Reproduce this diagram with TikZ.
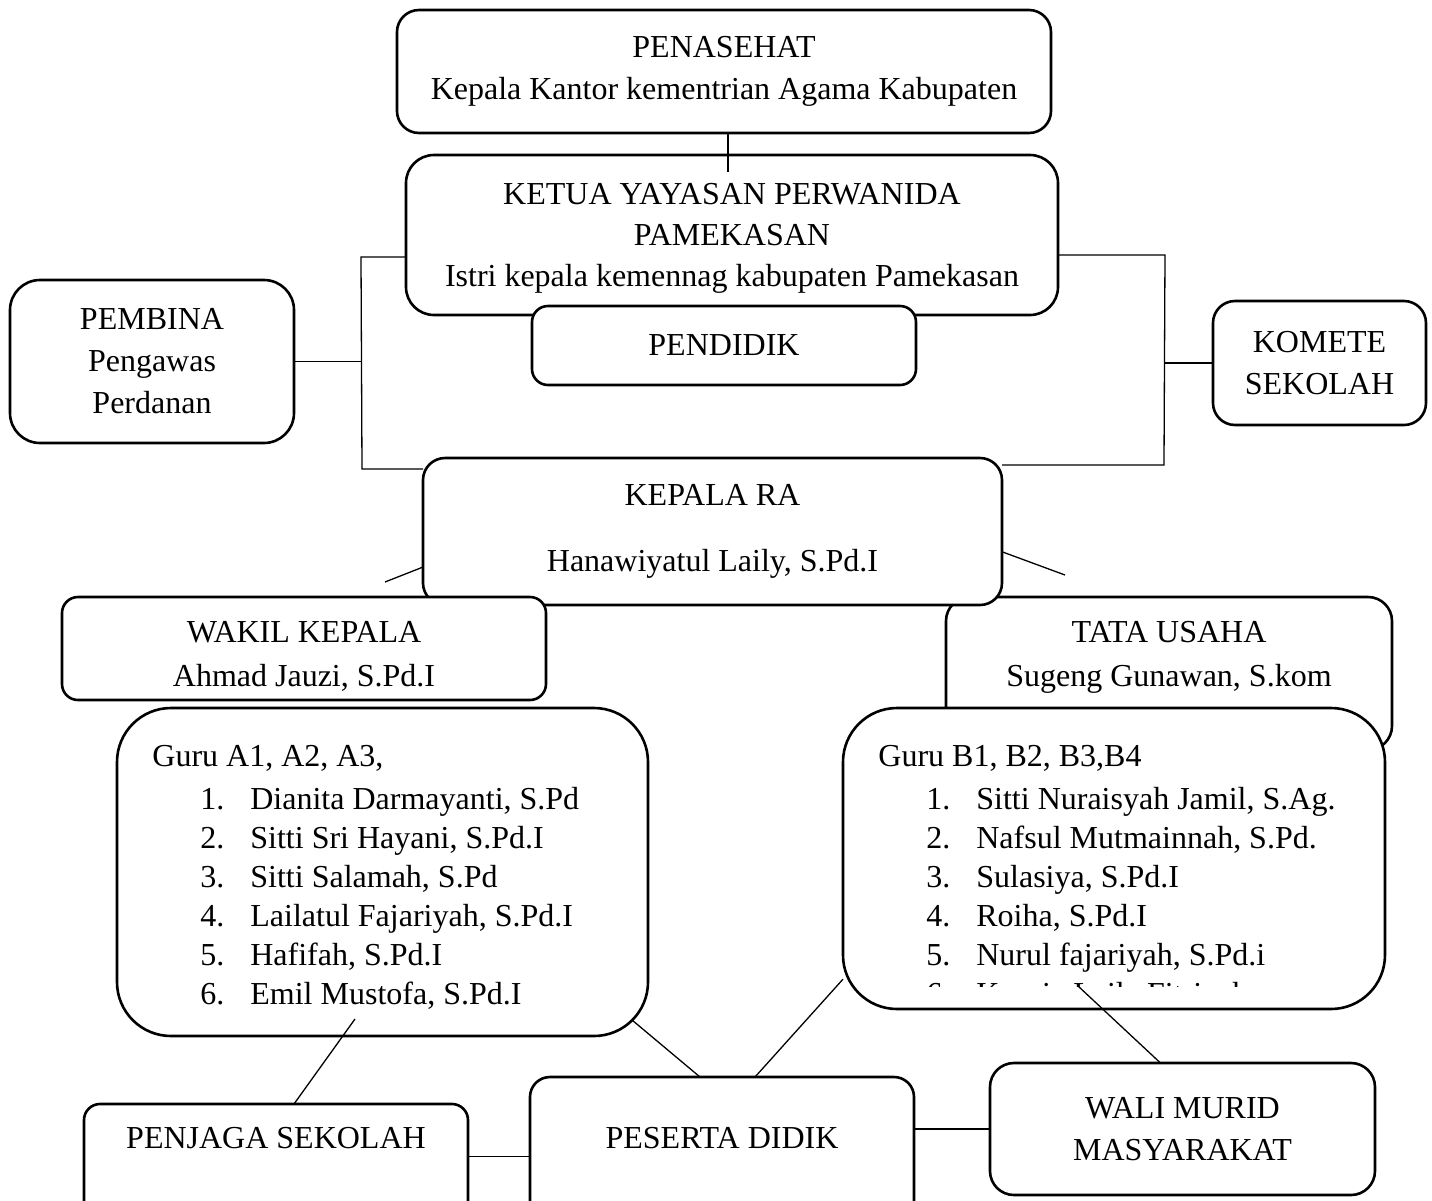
\documentclass[tikz,border=0pt]{standalone}
\usepackage{fontspec}
\setmainfont{Liberation Serif}
\newcommand{\guruitem}[2]{\hspace*{24pt}\makebox[25pt][l]{#1}#2}

\tikzset{box/.style={draw,line width=1.3pt,fill=white,rounded corners=11pt,align=center,inner sep=0pt,outer sep=0pt,font=\fontsize{16}{21}\selectfont}}
\tikzset{gurubox/.style={box,rounded corners=27pt}}
\tikzset{gurutext/.style={align=left,inner sep=0pt,anchor=north west,font=\fontsize{16}{19.5}\selectfont}}
\tikzset{link/.style={line width=0.65pt}}

\begin{document}
\begin{tikzpicture}[x=0.5pt,y=-0.5pt]
        \useasboundingbox (0,0) rectangle (1432,1201);
        \clip (0,0) rectangle (1432,1201);
        % free ends of the connectors
        \coordinate (pk) at (728,172);
        \coordinate (lt) at (361,257);
        \coordinate (lb) at (362,469);
        \coordinate (rt) at (1165,255);
        \coordinate (rb) at (1164,465);
        \coordinate (wk) at (385,582);
        \coordinate (tu) at (1065,575);
        \coordinate (emil) at (355,1019);
        \coordinate (fitri) at (1078,986);

        % draw the boxes (later ones lie on top)
        \node[box,minimum width=327pt,minimum height=61.5pt] (penasehat) at (724,71.5)
            {PENASEHAT\\Kepala Kantor kementrian Agama Kabupaten};
        \node[box,rounded corners=14pt,anchor=north,minimum width=326pt,text height=65.5pt,text depth=14.5pt,
            font=\fontsize{16}{20.5}\selectfont] (ketua) at (732,155)
            {KETUA YAYASAN PERWANIDA\\PAMEKASAN\\Istri kepala kemennag kabupaten Pamekasan};
        \node[box,rounded corners=8pt,minimum width=192pt,minimum height=39.5pt] (pendidik) at (724,345.5) {PENDIDIK};
        \node[box,rounded corners=15pt,minimum width=142pt,minimum height=81.5pt] (pembina) at (152,361.5)
            {PEMBINA\\Pengawas\\Perdanan};
        \node[box,minimum width=106.5pt,minimum height=62pt] (komete) at (1319.5,363) {KOMETE\\SEKOLAH};
        \node[box,rounded corners=12pt,anchor=north,minimum width=223pt,text height=44.8pt,text depth=31.7pt,
            font=\fontsize{16}{22}\selectfont] (tata) at (1169,597)
            {TATA USAHA\\Sugeng Gunawan, S.kom};
        \node[box,minimum width=289.5pt,minimum height=73.5pt] (kepala) at (712.5,531.5)
            {KEPALA RA\\[12pt]Hanawiyatul Laily, S.Pd.I};
        \node[box,rounded corners=8pt,anchor=north,minimum width=242pt,text height=44.8pt,text depth=6.7pt,
            font=\fontsize{16}{22}\selectfont] (wakil) at (304,597)
            {WAKIL KEPALA\\Ahmad Jauzi, S.Pd.I};

        % the two lists of teachers
        \node[gurubox,minimum width=265.5pt,minimum height=164pt] (guruA) at (382.5,872) {};
        \node[gurutext] (guruAtxt) at (152,744.5) {Guru A1, A2, A3,\\[2pt]
            \guruitem{1.}{Dianita Darmayanti, S.Pd}\\
            \guruitem{2.}{Sitti Sri Hayani, S.Pd.I}\\
            \guruitem{3.}{Sitti Salamah, S.Pd}\\
            \guruitem{4.}{Lailatul Fajariyah, S.Pd.I}\\
            \guruitem{5.}{Hafifah, S.Pd.I}\\
            \guruitem{6.}{Emil Mustofa, S.Pd.I}};
        \node[gurubox,minimum width=271pt,minimum height=150.5pt] (guruB) at (1114,858.5) {};
        \begin{scope}
            \clip (guruB.north west) rectangle (guruB.east |- fitri);
            \node[gurutext] (guruBtxt) at (878,744.5) {Guru B1, B2, B3,B4\\[2pt]
                \guruitem{1.}{Sitti Nuraisyah Jamil, S.Ag.}\\
                \guruitem{2.}{Nafsul Mutmainnah, S.Pd.}\\
                \guruitem{3.}{Sulasiya, S.Pd.I}\\
                \guruitem{4.}{Roiha, S.Pd.I}\\
                \guruitem{5.}{Nurul fajariyah, S.Pd.i}\\
                \guruitem{6.}{Kurnia Laila Fitriyah}};
        \end{scope}

        % bottom row
        \node[box,rounded corners=8pt,anchor=north,minimum width=192pt,text height=22.3pt,text depth=43.7pt] (penjaga) at (276,1104) {PENJAGA SEKOLAH};
        \node[box,rounded corners=10pt,anchor=north,minimum width=192pt,text height=35.8pt,text depth=43.7pt] (peserta) at (722,1077) {PESERTA DIDIK};
        \node[box,rounded corners=12pt,minimum width=192.5pt,minimum height=66pt] (wali) at (1182.5,1129)
            {WALI MURID\\MASYARAKAT};

        % connectors
        \draw[link] (penasehat.south -| pk) -- (pk);
        \draw[link] (ketua.west |- lt) -- (lt) -- (lb) -- (kepala.west |- lb);
        \draw[link] (pembina.east) -- (pembina.east -| lt);
        \draw[link] (ketua.east |- rt) -- (rt) -- (rb) -- (kepala.east |- rb);
        \draw[link] (komete.west) -- (komete.west -| rt);
        \draw[link] (kepala.-173) -- (wk);
        \draw[link] (kepala.-4) -- (tu);
        \draw[link] (emil) -- ([xshift=9pt]penjaga.north);
        \draw[link] ([xshift=-8pt,yshift=8pt]guruA.south east) -- ([xshift=-11pt]peserta.north);
        \draw[link] (guruB.-156) -- ([xshift=16.5pt]peserta.north);
        \draw[link] (fitri) -- ([xshift=-11pt]wali.north);
        \draw[link] (penjaga.east |- peserta.west) -- (peserta.west);
        \draw[link] (peserta.east |- wali.west) -- (wali.west);
    \end{tikzpicture}
\end{document}
